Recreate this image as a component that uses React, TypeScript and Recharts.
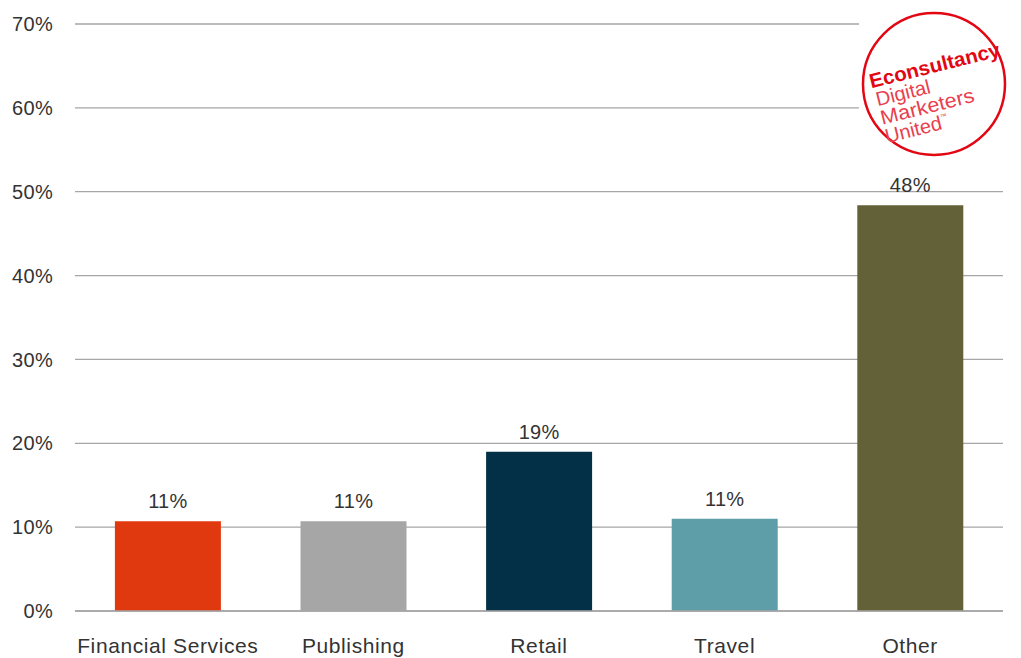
import React from "react";
import { BarChart, Bar, XAxis, YAxis, CartesianGrid, Cell, LabelList } from "recharts";

const categories = ["Financial Services", "Publishing", "Retail", "Travel", "Other"];
const values = [10.7, 10.7, 19.0, 11.0, 48.4];
const colors = ["#E0390F", "#A6A6A6", "#033046", "#5E9EA8", "#636137"];
const yTicks = [0, 10, 20, 30, 40, 50, 60, 70];

const data = categories.map((c, i) => ({ name: c, value: values[i] }));

const FONT = "'Liberation Sans', Arial, sans-serif";

export default function App() {
  return (
    <div style={{ position: "absolute", left: 0, top: 0, width: 1021, height: 658, background: "#fff", fontFamily: FONT }}>
      <BarChart
        width={1021}
        height={658}
        data={data}
        margin={{ top: 24, right: 18, bottom: 0, left: 0 }}
        barCategoryGap="21.5%"
      >
        <CartesianGrid horizontal vertical={false} stroke="#A6A6A6" strokeWidth={1.3} />
        <YAxis
          width={75}
          domain={[0, 70]}
          ticks={yTicks}
          interval={0}
          tickFormatter={(v: number) => `${v}%`}
          axisLine={false}
          tickLine={false}
          tickSize={0}
          tickMargin={22}
          tick={{ fontSize: 20, fill: "#333", fontFamily: FONT, letterSpacing: 0.3 }}
        />
        <XAxis
          dataKey="name"
          height={47}
          axisLine={{ stroke: "#A6A6A6", strokeWidth: 1.3 }}
          tickLine={false}
          tickSize={0}
          tickMargin={27}
          interval={0}
          tick={{ fontSize: 21, fill: "#333", fontFamily: FONT, letterSpacing: 0.6 }}
        />
        <Bar dataKey="value" isAnimationActive={false}>
          {data.map((d, i) => (
            <Cell key={d.name} fill={colors[i]} />
          ))}
          <LabelList
            dataKey="value"
            position="top"
            offset={13}
            formatter={(v: number) => `${Math.round(v)}%`}
            style={{ fontSize: 20, fill: "#333", fontFamily: FONT, letterSpacing: 0.3 }}
          />
        </Bar>
      </BarChart>
      <svg
        width={1021}
        height={658}
        style={{ position: "absolute", left: 0, top: 0, pointerEvents: "none" }}
      >
        <rect x={859} y={8} width={150} height={120} fill="#fff" />
        <circle cx={934} cy={84} r={71} fill="#fff" stroke="#E30613" strokeWidth={2.5} />
        <g transform="rotate(-14, 934, 84)" fontFamily={FONT}>
          <text x={872} y={73} fontSize={20} fontWeight="bold" fill="#E30613" textLength={134} lengthAdjust="spacingAndGlyphs">
            Econsultancy
          </text>
          <text x={874} y={92} fontSize={20} fill="#E8404E">Digital</text>
          <text x={874} y={111} fontSize={20} fill="#E8404E" textLength={96} lengthAdjust="spacingAndGlyphs">Marketers</text>
          <text x={874} y={130} fontSize={20} fill="#E8404E">
            United<tspan fontSize={7} dy={-10}>™</tspan>
          </text>
        </g>
      </svg>
    </div>
  );
}
